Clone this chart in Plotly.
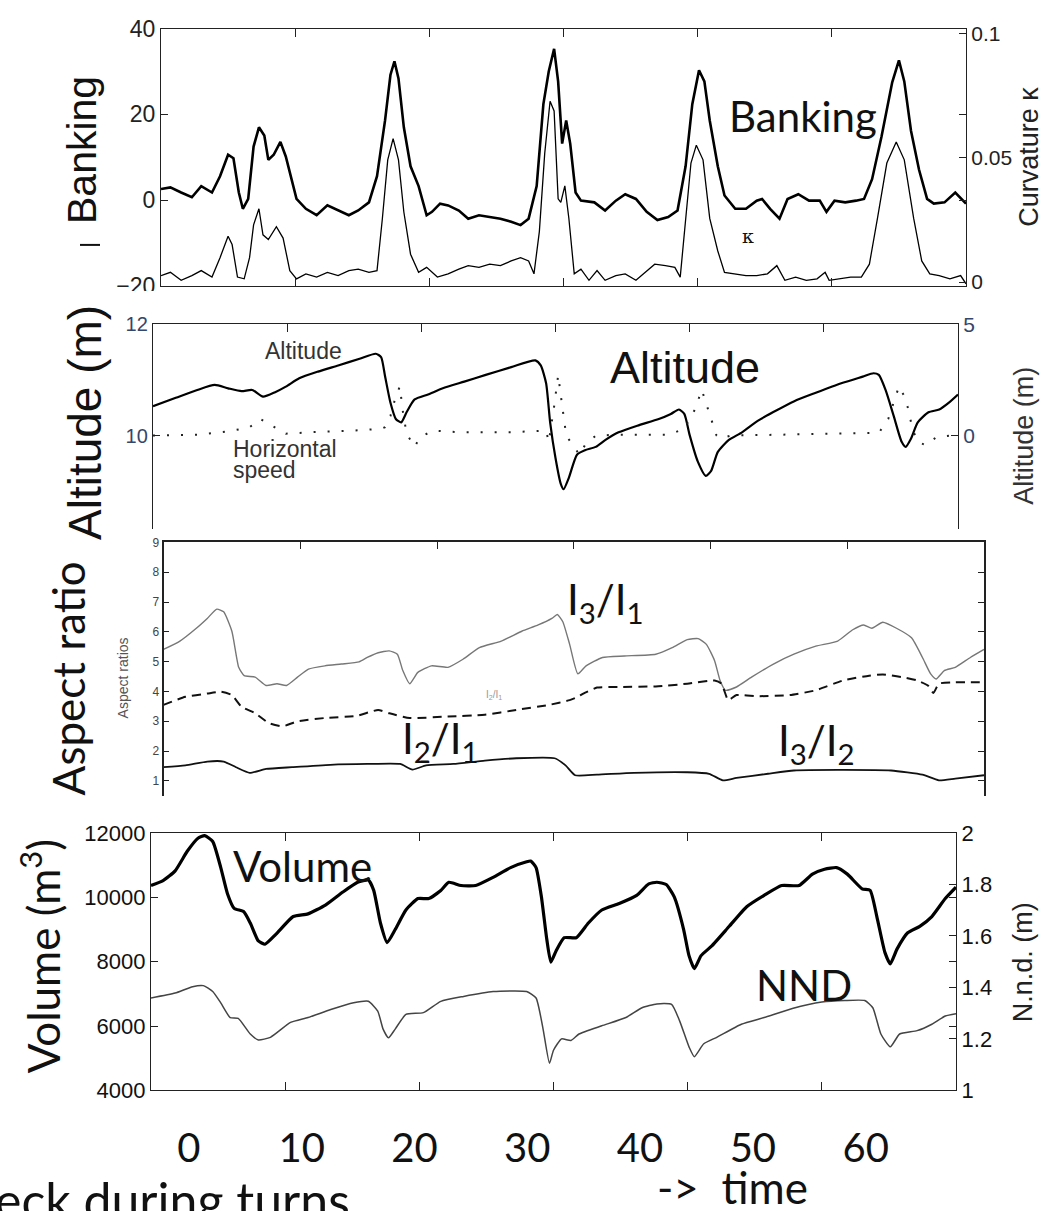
import plotly.graph_objects as go

W, H = 1044, 1211
def fx(p): return p / W
def fy(p): return 1 - p / H

# ---------------- data ----------------
panel_ticks = [10, 20, 30, 40, 50]
time_ticks = [0, 10, 20, 30, 40, 50, 60]

# Panel 1: banking (deg) and curvature kappa
t_bank = [0.0, 0.7, 1.5, 2.3, 3.0, 3.8, 4.4, 5.0, 5.4, 5.8, 6.1, 6.5, 6.9, 7.3, 7.7, 8.0, 8.4, 8.9, 9.3, 9.7,
          10.1, 10.8, 11.6, 12.4, 13.2, 14.0, 14.7, 15.5, 16.1, 16.7, 17.1, 17.4, 17.7, 18.1, 18.6, 19.2, 19.8,
          20.2, 20.8, 21.4, 22.2, 22.9, 23.7, 24.5, 25.3, 26.1, 26.8, 27.4, 28.0, 28.5, 28.9, 29.3, 29.6, 29.9,
          30.2, 30.5, 30.9, 31.3, 32.3, 33.1, 33.9, 34.6, 35.4, 36.2, 37.0, 37.8, 38.5, 39.1, 39.6, 40.1, 40.5,
          40.9, 41.5, 42.0, 42.8, 43.6, 44.4, 44.8, 45.4, 46.1, 46.7, 47.5, 48.3, 49.1, 49.6, 50.2, 51.0, 51.8,
          52.4, 53.0, 53.7, 54.5, 55.0, 55.4, 55.9, 56.5, 57.1, 57.6, 58.4, 59.2, 60.0]
banking = [2.6, 3.0, 1.8, 0.7, 3.3, 1.8, 5.6, 10.6, 9.8, 1.8, -2.0, 0.3, 12.5, 17.0, 15.1, 9.4, 10.6, 13.6, 10.2, 4.9,
           0.3, -2.0, -3.5, -1.2, -2.4, -3.5, -2.4, -0.5, 5.6, 18.6, 29.2, 32.4, 28.4, 17.0, 7.9, 3.3, -3.5,
           -2.7, -0.8, -1.2, -2.4, -4.3, -3.5, -3.9, -4.3, -5.0, -5.8, -4.3, 3.3, 22.4, 30.0, 35.3, 27.7, 13.2,
           18.6, 13.2, 1.8, -0.1, -0.5, -2.4, -0.1, 1.4, 0.3, -2.7, -4.6, -3.9, -2.4, 7.9, 22.4, 30.3, 27.7,
           18.6, 7.9, 1.1, -2.0, -2.0, -0.1, 0.3, -2.0, -4.3, 0.3, 1.4, -0.1, -0.1, -2.7, -0.1, -0.5, -0.1,
           0.3, 4.9, 14.8, 27.5, 32.6, 27.7, 16.2, 7.1, 0.3, -0.8, -0.5, 1.8, -0.8]

t_kappa = [0.0, 0.7, 1.5, 2.3, 3.0, 3.8, 4.4, 5.0, 5.3, 5.7, 6.2, 6.6, 6.9, 7.3, 7.6, 8.0, 8.6, 9.1, 9.6, 10.1,
           10.8, 11.6, 12.4, 13.2, 14.0, 14.7, 15.5, 16.1, 16.5, 16.9, 17.3, 17.7, 18.1, 18.6, 19.2, 19.8, 20.6,
           21.4, 22.2, 22.9, 23.7, 24.5, 25.3, 26.1, 26.8, 27.4, 27.8, 28.2, 28.6, 29.0, 29.3, 29.6, 29.8, 30.1,
           30.4, 30.8, 31.3, 31.9, 32.5, 33.1, 33.9, 34.6, 35.4, 36.2, 36.8, 37.6, 38.3, 38.7, 39.1, 39.5, 39.9,
           40.4, 40.9, 41.5, 42.0, 42.8, 43.6, 44.4, 45.2, 45.9, 46.5, 47.3, 48.1, 48.9, 49.5, 49.8, 50.6, 51.4,
           52.2, 52.8, 53.4, 54.1, 54.8, 55.4, 56.1, 56.7, 57.3, 58.0, 58.8, 59.6, 60.0]
kappa = [0.0026, 0.0039, 0.0007, 0.0026, 0.0046, 0.0020, 0.0098, 0.0184, 0.0151, 0.0020, 0.0013, 0.0098, 0.0230,
         0.0295, 0.0190, 0.0171, 0.0223, 0.0177, 0.0046, 0.0013, 0.0033, 0.0020, 0.0039, 0.0026, 0.0046, 0.0052,
         0.0039, 0.0046, 0.0256, 0.0492, 0.0577, 0.0492, 0.0282, 0.0112, 0.0039, 0.0059, 0.0020, 0.0033, 0.0052,
         0.0066, 0.0059, 0.0072, 0.0066, 0.0085, 0.0098, 0.0085, 0.0033, 0.0203, 0.0518, 0.0728, 0.0689, 0.0335,
         0.0321, 0.0387, 0.0256, 0.0033, 0.0052, 0.0007, 0.0046, 0.0007, 0.0026, 0.0033, 0.0007, 0.0046, 0.0072,
         0.0066, 0.0059, 0.0020, 0.0256, 0.0479, 0.0551, 0.0492, 0.0256, 0.0125, 0.0039, 0.0033, 0.0026, 0.0026,
         0.0033, 0.0066, 0.0007, 0.0020, 0.0007, 0.0013, 0.0039, 0.0007, 0.0013, 0.0020, 0.0020, 0.0072, 0.0256,
         0.0479, 0.0564, 0.0492, 0.0256, 0.0085, 0.0033, 0.0026, 0.0013, 0.0026, -0.0007]

# Panel 2: altitude (m) and horizontal speed
t_alt = [0.0, 1.7, 3.3, 4.6, 5.6, 6.6, 7.4, 8.2, 9.1, 9.9, 10.9, 12.3, 13.8, 15.4, 16.6, 17.0, 17.3, 17.7, 18.1,
         18.5, 18.9, 19.5, 20.5, 21.6, 23.2, 24.8, 26.7, 28.5, 28.9, 29.3, 29.6, 30.0, 30.4, 30.6, 31.0, 31.6,
         32.2, 33.0, 33.7, 34.7, 36.1, 37.7, 38.6, 39.2, 39.6, 40.0, 40.6, 41.2, 41.6, 42.1, 42.9, 43.9, 45.1,
         46.2, 47.8, 49.4, 51.3, 52.9, 53.7, 54.1, 54.6, 55.2, 55.8, 56.1, 56.5, 57.0, 57.8, 58.6, 59.3, 60.0]
altitude = [10.53, 10.68, 10.82, 10.91, 10.85, 10.80, 10.82, 10.70, 10.78, 10.88, 11.03, 11.15, 11.26, 11.38,
            11.47, 11.41, 11.06, 10.59, 10.30, 10.24, 10.42, 10.65, 10.74, 10.85, 10.97, 11.09, 11.23, 11.35,
            11.26, 10.94, 10.24, 9.60, 9.13, 9.04, 9.25, 9.66, 9.74, 9.80, 9.92, 10.06, 10.18, 10.30, 10.39,
            10.47, 10.39, 10.01, 9.54, 9.28, 9.37, 9.71, 9.92, 10.06, 10.27, 10.42, 10.62, 10.77, 10.94, 11.06,
            11.12, 11.09, 10.82, 10.36, 9.89, 9.80, 9.95, 10.24, 10.42, 10.47, 10.59, 10.74]

t_speed = [0.0, 3.3, 5.6, 7.2, 8.0, 8.9, 9.9, 11.9, 15.0, 17.0, 17.3, 17.7, 18.1, 18.4, 18.6, 18.9, 19.3, 19.5,
           19.9, 20.9, 22.8, 26.7, 29.3, 29.5, 29.9, 30.2, 30.5, 30.8, 31.2, 31.8, 32.2, 33.0, 34.5, 38.4, 39.6,
           40.4, 40.9, 41.2, 41.6, 42.0, 42.3, 43.1, 46.2, 50.2, 54.1, 54.8, 55.6, 56.0, 56.3, 56.6, 57.0, 57.6,
           58.4, 59.9]
hspeed = [0.01, 0.04, 0.19, 0.38, 0.75, 0.45, 0.09, 0.16, 0.23, 0.31, 0.38, 0.89, 1.77, 2.21, 1.18, 0.09, -0.28,
          -0.50, -0.06, 0.23, 0.16, 0.16, 0.23, -0.28, 1.33, 2.72, 1.33, 0.01, -0.35, -0.86, -0.42, 0.01, 0.04,
          0.04, 0.31, 1.18, 2.06, 1.48, 0.75, 0.01, -0.13, 0.01, 0.04, 0.09, 0.13, 0.75, 2.21, 1.77, 1.18, 0.31,
          -0.28, -0.42, -0.06, 0.04]

# Panel 3: aspect ratios
t_r31 = [0.0, 1.2, 2.4, 3.2, 3.9, 4.4, 5.0, 5.5, 5.9, 6.7, 7.5, 8.3, 9.0, 9.8, 10.6, 11.8, 13.0, 14.3, 14.9,
         15.7, 16.5, 17.1, 17.5, 18.0, 18.6, 19.6, 20.8, 21.9, 23.1, 24.7, 26.2, 27.4, 28.4, 28.8, 29.2, 29.7,
         30.3, 30.9, 32.1, 33.7, 36.0, 37.2, 38.3, 39.1, 39.7, 40.3, 40.7, 41.1, 41.9, 43.0, 44.6, 46.1, 47.7,
         49.3, 50.4, 51.2, 51.8, 52.6, 53.6, 54.7, 55.5, 56.1, 56.5, 57.1, 57.9, 59.0, 60.0]
ratio31 = [5.41, 5.69, 6.12, 6.45, 6.76, 6.67, 6.02, 4.81, 4.53, 4.48, 4.20, 4.26, 4.20, 4.48, 4.75, 4.86, 4.92,
           4.99, 5.14, 5.30, 5.36, 5.25, 4.70, 4.26, 4.64, 4.86, 4.81, 5.08, 5.47, 5.69, 6.02, 6.23, 6.45, 6.58,
           6.34, 5.58, 4.59, 4.86, 5.14, 5.19, 5.25, 5.47, 5.74, 5.77, 5.58, 5.03, 4.37, 4.04, 4.15, 4.48, 4.92,
           5.25, 5.52, 5.69, 6.07, 6.23, 6.12, 6.32, 6.12, 5.80, 5.14, 4.59, 4.42, 4.70, 4.81, 5.14, 5.41]

t_r21 = [0.0, 1.6, 3.2, 4.2, 5.0, 5.7, 6.7, 7.7, 8.7, 9.8, 11.8, 14.1, 15.7, 16.5, 18.0, 20.8, 23.5, 25.8, 28.2,
         29.7, 30.3, 30.7, 31.7, 33.3, 36.0, 38.3, 40.3, 40.8, 41.3, 41.9, 43.4, 45.8, 47.7, 49.7, 51.6, 52.6,
         54.0, 55.1, 55.9, 56.3, 56.7, 57.9, 60.0]
ratio21 = [3.55, 3.82, 3.93, 3.99, 3.88, 3.49, 3.27, 2.94, 2.83, 3.00, 3.11, 3.18, 3.38, 3.27, 3.11, 3.16, 3.22,
           3.38, 3.55, 3.71, 3.82, 3.93, 4.13, 4.15, 4.17, 4.26, 4.37, 4.26, 3.71, 3.88, 3.84, 3.88, 4.04, 4.37,
           4.53, 4.57, 4.48, 4.37, 4.20, 3.95, 4.26, 4.31, 4.31]

t_r32 = [0.0, 1.6, 3.2, 4.4, 5.3, 6.3, 7.5, 9.4, 12.2, 14.9, 17.3, 18.2, 19.2, 21.2, 23.5, 25.8, 28.6, 29.4,
         30.1, 31.7, 34.4, 38.3, 39.9, 40.9, 41.9, 44.2, 46.1, 49.3, 53.2, 55.5, 56.7, 57.9, 60.0]
ratio32 = [1.46, 1.52, 1.65, 1.65, 1.46, 1.27, 1.40, 1.46, 1.54, 1.57, 1.57, 1.38, 1.52, 1.57, 1.68, 1.76, 1.76,
           1.52, 1.19, 1.21, 1.27, 1.29, 1.24, 1.02, 1.10, 1.24, 1.35, 1.37, 1.35, 1.21, 1.02, 1.08, 1.19]

# Panel 4: school volume (m^3) and nearest-neighbour distance (m)
t_vol = [0.0, 0.9, 1.8, 2.7, 3.5, 4.0, 4.6, 5.2, 5.7, 6.2, 6.9, 7.4, 8.0, 8.5, 9.3, 10.6, 11.7, 13.0, 14.3, 15.4,
         16.2, 16.6, 17.1, 17.6, 18.2, 19.0, 19.9, 20.7, 21.6, 22.2, 23.1, 24.2, 25.5, 26.8, 28.0, 28.3, 28.7,
         29.1, 29.5, 29.8, 30.2, 30.8, 31.7, 32.6, 33.6, 34.9, 36.2, 37.1, 37.7, 38.4, 39.0, 39.7, 40.1, 40.5,
         41.0, 41.8, 43.1, 44.4, 45.7, 47.0, 48.3, 49.3, 50.2, 51.1, 51.9, 53.0, 53.6, 54.1, 54.7, 55.1, 55.6,
         56.4, 57.3, 58.2, 59.2, 60.0]
volume = [10368, 10520, 10824, 11432, 11838, 11919, 11736, 10925, 10114, 9658, 9557, 9202, 8644, 8543, 8847, 9404,
          9486, 9759, 10165, 10469, 10540, 10216, 9202, 8594, 9000, 9607, 9962, 9962, 10216, 10469, 10368, 10368,
          10621, 10925, 11108, 11128, 10925, 10013, 8695, 7985, 8340, 8746, 8746, 9202, 9607, 9810, 10063, 10418,
          10469, 10398, 10013, 9000, 8188, 7782, 8188, 8492, 9100, 9708, 10063, 10368, 10368, 10722, 10874, 10925,
          10722, 10266, 10216, 9404, 8290, 7934, 8391, 8898, 9100, 9404, 9962, 10317]

t_nnd = [0.0, 1.8, 3.1, 3.9, 4.6, 5.2, 5.9, 6.5, 7.4, 8.0, 8.9, 10.4, 11.7, 13.4, 15.1, 16.2, 16.9, 17.3, 17.7,
         18.2, 19.0, 20.3, 21.6, 23.3, 25.5, 28.0, 28.7, 29.2, 29.7, 30.0, 30.6, 31.3, 31.9, 33.6, 35.4, 36.6,
         37.7, 38.8, 39.4, 40.1, 40.5, 41.2, 42.2, 44.0, 45.7, 47.8, 50.0, 51.7, 53.2, 53.8, 54.4, 55.1, 55.8,
         57.1, 58.2, 59.2, 60.0]
nnd = [1.359, 1.378, 1.403, 1.407, 1.384, 1.340, 1.283, 1.280, 1.219, 1.196, 1.206, 1.264, 1.283, 1.314, 1.340,
       1.346, 1.308, 1.238, 1.204, 1.238, 1.295, 1.302, 1.346, 1.365, 1.384, 1.384, 1.359, 1.245, 1.105, 1.156,
       1.200, 1.194, 1.219, 1.251, 1.283, 1.321, 1.336, 1.334, 1.270, 1.169, 1.131, 1.181, 1.207, 1.257, 1.283,
       1.318, 1.343, 1.349, 1.349, 1.321, 1.219, 1.169, 1.219, 1.232, 1.257, 1.289, 1.298]

# ---------------- figure ----------------
fig = go.Figure()
line_kw = dict(mode='lines', hoverinfo='skip', showlegend=False)

fig.add_trace(go.Scatter(x=t_bank, y=banking, xaxis='x', yaxis='y', line=dict(color='#000', width=2.6), **line_kw))
fig.add_trace(go.Scatter(x=t_kappa, y=kappa, xaxis='x', yaxis='y2', line=dict(color='#000', width=1.3), **line_kw))

fig.add_trace(go.Scatter(x=t_alt, y=altitude, xaxis='x2', yaxis='y3',
                         line=dict(color='#000', width=2.2, shape='spline', smoothing=0.6), **line_kw))
fig.add_trace(go.Scatter(x=t_speed, y=hspeed, xaxis='x2', yaxis='y4',
                         line=dict(color='#222', width=2, dash='2px,12px'), **line_kw))

fig.add_trace(go.Scatter(x=t_r31, y=ratio31, xaxis='x3', yaxis='y5',
                         line=dict(color='#777', width=1.4, shape='spline', smoothing=0.5), **line_kw))
fig.add_trace(go.Scatter(x=t_r21, y=ratio21, xaxis='x3', yaxis='y5',
                         line=dict(color='#111', width=2, dash='9px,6px', shape='spline', smoothing=0.5), **line_kw))
fig.add_trace(go.Scatter(x=t_r32, y=ratio32, xaxis='x3', yaxis='y5',
                         line=dict(color='#111', width=1.8, shape='spline', smoothing=0.5), **line_kw))

fig.add_trace(go.Scatter(x=t_vol, y=volume, xaxis='x4', yaxis='y6',
                         line=dict(color='#000', width=3.2, shape='spline', smoothing=0.5), **line_kw))
fig.add_trace(go.Scatter(x=t_nnd, y=nnd, xaxis='x4', yaxis='y7',
                         line=dict(color='#444', width=1.5, shape='spline', smoothing=0.5), **line_kw))
# carrier for the "time" label axis
fig.add_trace(go.Scatter(x=time_ticks, y=[None] * len(time_ticks), xaxis='x5', yaxis='y6', **line_kw))

AR = 'Liberation Sans, Arial, sans-serif'
CAL = 'Lato, Carlito, Calibri, sans-serif'
base = dict(showgrid=False, zeroline=False, showline=True, linecolor='#222', linewidth=1.3,
            ticks='inside', tickcolor='#222', ticklen=8)
xbase = dict(base, range=[0, 60], tickvals=panel_ticks, showticklabels=False)

fig.update_layout(
    width=W, height=H, margin=dict(l=0, r=0, t=0, b=0),
    paper_bgcolor='white', plot_bgcolor='rgba(0,0,0,0)', showlegend=False,
    # panel 1
    xaxis=dict(xbase, domain=[fx(161), fx(966)], anchor='y', mirror='ticks'),
    yaxis=dict(base, domain=[fy(279), fy(16)], anchor='x', range=[-20, 40], tickvals=[-20, 0, 20, 40],
               mirror='ticks', ticklen=7, tickfont=dict(family=AR, size=23, color='#222')),
    yaxis2=dict(base, overlaying='y', side='right', anchor='x', range=[-0.0016, 0.102],
                tickvals=[0, 0.05, 0.1], ticktext=['0', '0.05', '0.1'], ticklen=7,
                tickfont=dict(family=AR, size=21, color='#222')),
    # panel 2
    xaxis2=dict(xbase, domain=[fx(153), fx(958)], anchor='y3', side='top'),
    yaxis3=dict(base, domain=[fy(527), fy(318)], anchor='x2', range=[8.333, 12], tickvals=[10, 12], ticklen=7,
                tickfont=dict(family=AR, size=20, color='#34466b')),
    yaxis4=dict(base, overlaying='y3', side='right', anchor='x2', range=[-4.167, 5], tickvals=[0, 5], ticklen=7,
                tickfont=dict(family=AR, size=21, color='#34466b')),
    # panel 3
    xaxis3=dict(xbase, domain=[fx(163.5), fx(984)], anchor='y5', side='top', linewidth=1.8, ticklen=7),
    yaxis5=dict(base, domain=[fy(800), fy(541)], anchor='x3', range=[0.5, 9], tickvals=list(range(1, 10)),
                mirror='ticks', linewidth=1.8, ticklen=6, tickfont=dict(family=AR, size=12, color='#444')),
    # panel 4
    xaxis4=dict(xbase, domain=[fx(151), fx(956)], anchor='y6', mirror='ticks'),
    yaxis6=dict(base, domain=[fy(1101), fy(838)], anchor='x4', range=[4000, 12000],
                tickvals=[4000, 6000, 8000, 10000, 12000], tickformat='d', mirror='ticks', ticklen=7,
                tickfont=dict(family=AR, size=22, color='#111')),
    yaxis7=dict(base, overlaying='y6', side='right', anchor='x4', range=[1, 2],
                tickvals=[1, 1.2, 1.4, 1.6, 1.8, 2], ticklen=7, tickfont=dict(family=AR, size=22, color='#111')),
    # big time labels
    xaxis5=dict(overlaying='x4', anchor='free', position=fy(1132), side='bottom', range=[-3.36, 68.01],
                tickvals=time_ticks, showline=False, showgrid=False, zeroline=False, ticks='',
                tickfont=dict(family=CAL, size=40, color='#111')),
)

def ann(text, x, y, size, family=AR, color='#111', angle=0, xanchor='center', yanchor='middle'):
    return dict(text=text, x=fx(x), y=fy(y), xref='paper', yref='paper', showarrow=False,
                font=dict(family=family, size=size, color=color), textangle=angle,
                xanchor=xanchor, yanchor=yanchor)

annotations = [
    ann('Banking', 82, 140, 41, angle=-90),
    ann('Curvature κ', 1029, 147, 27, color='#222', angle=-90),
    ann('Banking', 803, 105, 42, family=CAL),
    ann('κ', 748, 228, 19, family='DejaVu Serif, serif'),
    ann('Altitude (m)', 85, 418, 46, angle=-90),
    ann('Altitude', 685, 362, 45),
    ann('Altitude', 303, 345, 23, color='#333'),
    ann('Horizontal', 231, 446, 23, color='#333', xanchor='left'),
    ann('speed', 231, 467, 23, color='#333', xanchor='left'),
    ann('Altitude (m)', 1024, 432, 27, color='#333', angle=-90),
    ann('Aspect ratio', 68, 680, 44, family=CAL, angle=-90),
    ann('Aspect ratios', 123, 680, 14, color='#555', angle=-90),
    ann('I<sub>3</sub>/I<sub>1</sub>', 605, 602, 42, family=CAL),
    ann('I<sub>2</sub>/I<sub>1</sub>', 440, 744, 42, family=CAL),
    ann('I<sub>3</sub>/I<sub>2</sub>', 816, 746, 42, family=CAL),
    ann('I<sub>2</sub>/I<sub>1</sub>', 494, 697, 10, color='#999'),
    ann('Volume (m<sup>3</sup>)', 40, 964, 44, family=CAL, angle=-90),
    ann('Volume', 302, 872, 42, family=CAL),
    ann('NND', 804, 993, 42, family=CAL),
    ann('N.n.d. (m)', 1023, 970, 27, color='#222', angle=-90),
    ann('->\u00a0\u00a0time', 732, 1200, 44, family=CAL),
    ann('eck during turns', 352, 1180, 50, family=CAL, xanchor='right', yanchor='top'),
]
fig.update_layout(annotations=annotations)

fig.update_layout(shapes=[
    dict(type='line', xref='paper', yref='paper', x0=fx(80), x1=fx(100), y0=fy(237), y1=fy(237),
         line=dict(color='#111', width=2)),
    dict(type='rect', xref='paper', yref='paper', x0=fx(100), x1=fx(158), y0=fy(300), y1=fy(284),
         fillcolor='white', line=dict(width=0), layer='above'),
])

fig.write_html('out.html')
